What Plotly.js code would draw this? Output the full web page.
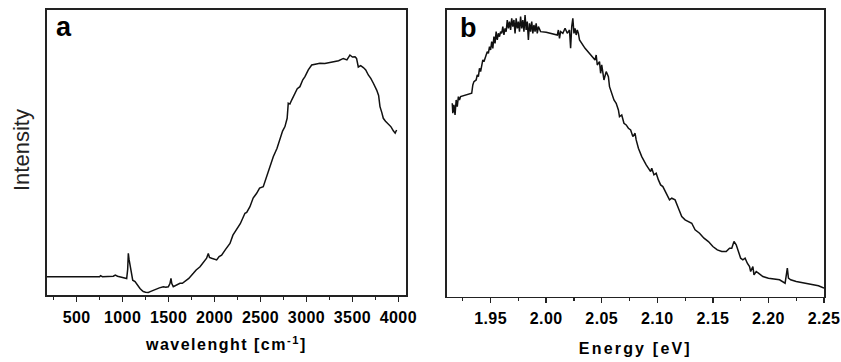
<!DOCTYPE html>
<html>
<head>
<meta charset="utf-8">
<script src="https://cdn.plot.ly/plotly-3.0.1.min.js"></script>
<style>
html,body{margin:0;padding:0;background:#fff;}
#chart{width:841px;height:362px;}
.xtitle{letter-spacing:1.5px;}
.x2title{letter-spacing:2.2px;}
.xtick text,.x2tick text{letter-spacing:0.4px;}
</style>
</head>
<body>
<div id="chart"></div>
<script>
// Panel a: wavenumber vs intensity (arbitrary units)
const waveA = [174,300,450,600,750,760,780,899,920,945,970,1044,1055,1062,1070,1080,1090,1098,1110,1135,1160,1189,1210,1225,1250,1280,1300,1330,1370,1400,1443,1470,1497,1515,1526,1535,1551,1580,1624,1650,1678,1720,1769,1800,1842,1880,1914,1932,1945,1968,2000,2023,2050,2077,2120,2168,2200,2240,2280,2331,2350,2385,2420,2458,2490,2530,2550,2567,2600,2639,2680,2711,2740,2766,2790,2802,2820,2839,2860,2875,2900,2929,2960,2984,3020,3057,3100,3147,3200,3250,3292,3350,3401,3440,3473,3500,3528,3545,3564,3590,3619,3645,3673,3700,3728,3750,3764,3785,3800,3820,3836,3860,3891,3920,3945,3965,3981];
const intA  = [0.064,0.064,0.063,0.064,0.064,0.068,0.064,0.066,0.070,0.066,0.064,0.058,0.090,0.146,0.125,0.108,0.080,0.064,0.052,0.047,0.035,0.023,0.016,0.012,0.010,0.009,0.012,0.016,0.023,0.025,0.029,0.027,0.029,0.040,0.058,0.040,0.029,0.033,0.041,0.041,0.047,0.058,0.076,0.088,0.099,0.114,0.129,0.146,0.132,0.129,0.127,0.123,0.135,0.140,0.160,0.181,0.210,0.228,0.250,0.287,0.290,0.310,0.340,0.357,0.375,0.380,0.400,0.415,0.450,0.485,0.515,0.544,0.575,0.591,0.620,0.673,0.670,0.684,0.700,0.708,0.724,0.731,0.755,0.766,0.790,0.807,0.810,0.813,0.812,0.815,0.819,0.822,0.830,0.825,0.842,0.835,0.836,0.830,0.800,0.805,0.798,0.790,0.772,0.760,0.743,0.730,0.719,0.700,0.661,0.640,0.620,0.610,0.600,0.590,0.576,0.568,0.579];

// Panel b: photon energy vs intensity (arbitrary units, read as pixel heights)
const energyB = [1.9155,1.916,1.917,1.918,1.919,1.920,1.921,1.922,1.923,1.928,1.933,1.934,1.935,1.937,1.938,1.939,1.940,1.941,1.942,1.943,1.944,1.945,1.946,1.947,1.948,1.949,1.950,1.951,1.952,1.953,1.954,1.955,1.956,1.957,1.958,1.959,1.960,1.961,1.962,1.963,1.964,1.965,1.966,1.967,1.968,1.969,1.970,1.971,1.972,1.973,1.974,1.975,1.976,1.977,1.978,1.979,1.980,1.981,1.982,1.983,1.984,1.985,1.986,1.987,1.988,1.989,1.990,1.991,1.992,1.993,1.995,2.000,2.005,2.010,2.011,2.012,2.013,2.015,2.017,2.019,2.021,2.022,2.023,2.024,2.025,2.026,2.027,2.028,2.029,2.030,2.035,2.040,2.044,2.045,2.046,2.048,2.049,2.050,2.052,2.054,2.056,2.057,2.059,2.061,2.063,2.065,2.066,2.068,2.070,2.072,2.074,2.076,2.078,2.080,2.081,2.083,2.086,2.090,2.094,2.095,2.097,2.099,2.101,2.103,2.105,2.107,2.109,2.111,2.113,2.116,2.119,2.122,2.125,2.128,2.131,2.134,2.138,2.142,2.146,2.150,2.154,2.158,2.162,2.165,2.167,2.169,2.171,2.173,2.175,2.177,2.179,2.181,2.183,2.184,2.186,2.187,2.189,2.191,2.195,2.200,2.205,2.210,2.215,2.216,2.217,2.218,2.220,2.225,2.230,2.235,2.240,2.245,2.250];
const pixB = [310,340,315,345,300,320,290,300,290,285,280,255,245,240,225,230,205,215,190,180,185,170,165,155,160,140,150,125,145,110,130,95,120,100,110,95,100,80,105,85,95,60,85,65,90,55,80,60,100,55,85,65,95,50,85,60,95,45,90,65,120,70,95,65,100,75,95,70,100,80,95,97,100,105,90,115,95,100,85,100,90,145,80,55,100,85,105,90,100,120,145,165,180,165,195,185,220,195,240,215,230,260,280,300,310,330,350,345,370,375,385,390,410,400,420,445,470,495,515,505,525,520,540,555,560,575,590,600,595,600,625,650,660,665,670,690,700,715,725,740,750,755,755,745,745,725,735,755,775,780,775,790,800,815,800,825,815,820,830,835,838,840,850,830,805,835,840,845,848,852,855,858,865];
const intB = pixB.map(p => (890 - p) / 860);

const ticksA = [500,1000,1500,2000,2500,3000,3500,4000];
const ticksB = [1.95,2.00,2.05,2.10,2.15,2.20,2.25];
const ticksBText = ['1.95','2.00','2.05','2.10','2.15','2.20','2.25'];

const lineStyle = {color:'#111', width:1.5};
const traces = [
  {x: waveA, y: intA, xaxis:'x', yaxis:'y', type:'scatter', mode:'lines', line: lineStyle, hoverinfo:'skip'},
  {x: energyB, y: intB, xaxis:'x2', yaxis:'y2', type:'scatter', mode:'lines', line: lineStyle, hoverinfo:'skip'}
];

const FAM = 'Liberation Sans, Arial, sans-serif';
const tickFont = {family:FAM, size:16, color:'#000', weight:'bold'};
const frame = {showline:true, mirror:true, linecolor:'#222', linewidth:1.7, zeroline:false, showgrid:false};

const layout = {
  width:841, height:362,
  margin:{l:0, r:0, t:0, b:0},
  paper_bgcolor:'#fff', plot_bgcolor:'#fff',
  showlegend:false,
  font:{family:FAM, color:'#000'},
  xaxis: Object.assign({}, frame, {
    domain:[46.7/841, 406/841], anchor:'y',
    range:[174, 4083], tickvals: ticksA, ticktext: ticksA.map(String),
    ticks:'outside', ticklen:5, tickwidth:1.4, tickcolor:'#222',
    minor:{dtick:250, tick0:0, ticks:'outside', ticklen:3, tickwidth:1.1, tickcolor:'#222'},
    tickfont: tickFont, ticklabelstandoff:2,
    title:{text:'<b>wavelenght [cm<sup>-1</sup>]</b>', font:{size:16, family:FAM, color:'#000'}, standoff:14}
  }),
  yaxis: Object.assign({}, frame, {
    domain:[67/362, 352/362], anchor:'x',
    range:[0, 1], showticklabels:false, ticks:''
  }),
  xaxis2: Object.assign({}, frame, {
    domain:[446.7/841, 824/841], anchor:'y2',
    range:[1.9105, 2.25], tickvals: ticksB, ticktext: ticksBText,
    ticks:'outside', ticklen:5, tickwidth:1.4, tickcolor:'#222',
    minor:{dtick:0.025, tick0:1.9, ticks:'outside', ticklen:3, tickwidth:1.1, tickcolor:'#222'},
    tickfont: tickFont, ticklabelstandoff:2,
    title:{text:'<b>Energy [eV]</b>', font:{size:16, family:FAM, color:'#000'}, standoff:16}
  }),
  yaxis2: Object.assign({}, frame, {
    domain:[65.5/362, 352/362], anchor:'x2',
    range:[0, 1], showticklabels:false, ticks:''
  }),
  annotations:[
    {text:'Intensity', xref:'paper', yref:'paper', x:22/841, y:1-150/362, xanchor:'center', yanchor:'middle', textangle:-90, showarrow:false, font:{size:22, family:FAM, color:'#222'}},
    {text:'<b>a</b>', xref:'paper', yref:'paper', x:64/841, y:1-27/362, xanchor:'center', yanchor:'middle', showarrow:false, font:{size:27, family:FAM, color:'#000'}},
    {text:'<b>b</b>', xref:'paper', yref:'paper', x:468/841, y:1-28/362, xanchor:'center', yanchor:'middle', showarrow:false, font:{size:27, family:FAM, color:'#000'}}
  ]
};

Plotly.newPlot('chart', traces, layout, {staticPlot:true, displayModeBar:false});
</script>
</body>
</html>
